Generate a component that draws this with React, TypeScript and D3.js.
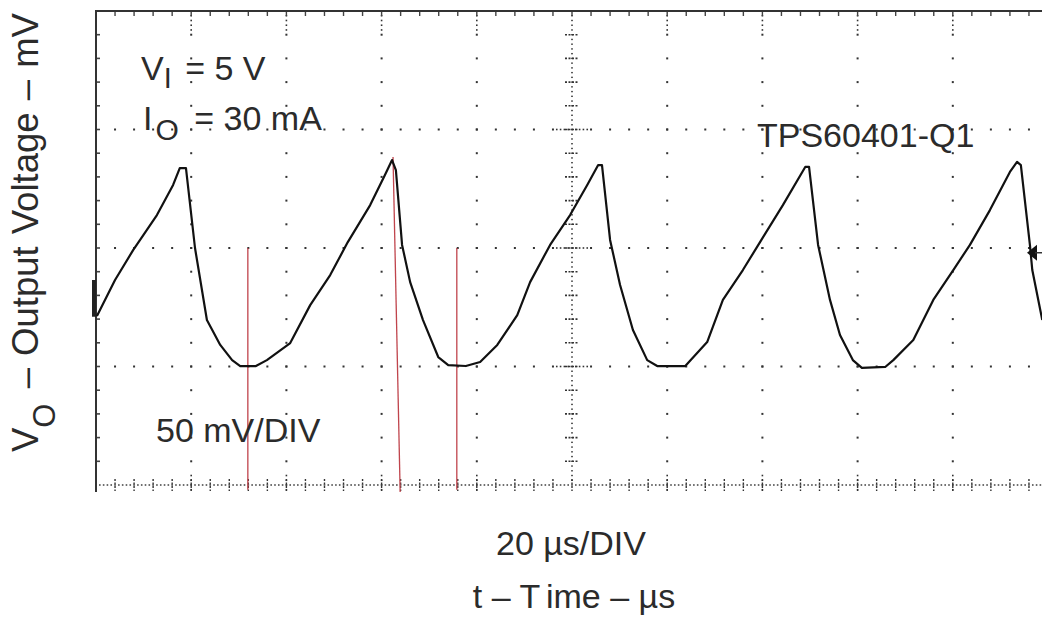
import React from "react";
import * as d3 from "d3";

// Time in µs (20 µs/DIV, 10 divisions), voltage in mV relative to bottom of screen (50 mV/DIV, 4 divisions)
const traceTime = [0.2, 4.0, 7.8, 12.8, 16.2, 17.6, 18.9, 20.8, 23.3, 26.1, 28.6, 30.3, 33.6, 35.9, 40.8, 45.0, 49.2, 52.9, 57.6, 60.7, 62.2, 63.0, 64.3, 66.0, 68.7, 71.9, 74.0, 77.7, 80.7, 84.3, 88.5, 91.2, 95.4, 99.6, 103.2, 105.5, 106.3, 108.0, 110.1, 112.8, 115.8, 117.9, 123.8, 128.4, 131.7, 135.9, 139.5, 144.3, 149.0, 149.8, 151.7, 154.2, 156.3, 159.0, 160.9, 165.8, 167.5, 171.7, 175.9, 180.1, 183.6, 187.8, 192.0, 193.5, 194.3, 196.2, 196.7, 198.8];
const traceVolt = [71.3, 86.5, 99.1, 113.9, 126.6, 133.7, 133.7, 100.0, 69.6, 59.1, 52.7, 50.2, 50.2, 52.7, 59.9, 75.9, 88.6, 102.5, 118.1, 130.8, 137.1, 132.9, 101.3, 85.6, 69.6, 54.0, 50.6, 50.2, 51.9, 59.1, 71.7, 85.6, 101.3, 113.9, 126.6, 135.0, 135.0, 103.4, 84.4, 65.4, 52.7, 50.2, 50.2, 60.3, 78.1, 90.7, 102.5, 118.1, 134.2, 134.2, 101.3, 78.1, 63.3, 52.7, 49.4, 49.8, 52.7, 61.2, 78.1, 90.7, 101.3, 116.0, 132.1, 136.3, 135.0, 101.3, 90.7, 69.6];

// Red cursor lines: from (t1, v1) to (t2, v2)
const cursorT1 = [31.9, 62.4, 75.8];
const cursorV1 = [100, 138.4, 100];
const cursorT2 = [31.9, 63.9, 75.8];
const cursorV2 = [-2, -3, -2];

const timeDomain = [0, 200];
const voltDomain = [0, 200];
const timePerDiv = 20;
const voltPerDiv = 50;
const minorPerDiv = 5;
const groundMarker = [71, 86.5];
const triggerLevel = 98;

const FONT = "'Liberation Sans', Arial, sans-serif";
const TXT = "#2b2b2b";

export default function App() {
  const W = 1042, H = 618;
  const x = d3.scaleLinear().domain(timeDomain).range([96, 1048]);
  const y = d3.scaleLinear().domain(voltDomain).range([485, 11]);

  const tMinor = timePerDiv / minorPerDiv;
  const vMinor = voltPerDiv / minorPerDiv;
  const tMajors = d3.range(timeDomain[0] + timePerDiv, timeDomain[1], timePerDiv);
  const vMajors = d3.range(voltDomain[0] + voltPerDiv, voltDomain[1], voltPerDiv);
  const tMinors = d3.range(timeDomain[0] + tMinor, timeDomain[1] + 0.001, tMinor);
  const vMinors = d3.range(voltDomain[0] + vMinor, voltDomain[1], vMinor);
  const centerT = 100;

  const dots: any[] = [];
  const dotColor = "#333";
  let k = 0;
  const dot = (cx: number, cy: number, w = 2, h = 2) => {
    dots.push(<rect key={k++} x={cx - w / 2} y={cy - h / 2} width={w} height={h} fill={dotColor} />);
  };

  // Vertical major lines (dotted at every minor of volts)
  tMajors.forEach((t) => {
    if (t === centerT) return;
    vMinors.forEach((v) => dot(x(t), y(v)));
    d3.range(2, 8.1, 2).forEach((v) => dot(x(t), y(voltDomain[1] - v), 1.6, 1.6));
    d3.range(-2, 4.1, 2).forEach((v) => dot(x(t), y(v), 1.6, 1.6));
  });
  // Horizontal major lines (dots at every minor of time)
  vMajors.forEach((v) => {
    tMinors.forEach((t) => {
      if (Math.abs(t - centerT) < 0.01) return;
      dot(x(t), y(v));
    });
    d3.range(centerT - 3.2, centerT + 3.3, 0.8).forEach((t) => dot(x(t), y(v), 1.6, 1.6));
  });
  // Center vertical line: dense dots + small ticks at every minor
  d3.range(voltDomain[0] + 2, voltDomain[1], 2).forEach((v) => dot(x(centerT), y(v), 1.6, 1.4));
  vMinors.forEach((v) => dots.push(<line key={k++} x1={x(centerT) - 7} x2={x(centerT) + 6} y1={y(v)} y2={y(v)} stroke={dotColor} strokeWidth={1.6} strokeDasharray="2,1.5" />));

  // Bottom axis line (dense dots) with ticks
  d3.range(timeDomain[0] + 0.8, timeDomain[1], 0.8).forEach((t) => dot(x(t), y(0), 1.6, 1.4));
  tMinors.forEach((t) => dots.push(<line key={k++} x1={x(t)} x2={x(t)} y1={y(0) - 6} y2={y(0) + 6} stroke={dotColor} strokeWidth={1.4} strokeDasharray="2,1.5" />));

  const topTicks = tMinors.map((t, i) => <line key={"tt" + i} x1={x(t)} x2={x(t)} y1={y(voltDomain[1])} y2={y(voltDomain[1]) + 5} stroke="#444" strokeWidth={1.4} />);
  const leftTicks = vMinors.map((v, i) => <line key={"lt" + i} x1={x(0)} x2={x(0) + 4} y1={y(v)} y2={y(v)} stroke="#444" strokeWidth={1.6} />);

  const line = d3.line<number>().x((_, i) => x(traceTime[i])).y((_, i) => y(traceVolt[i]));
  const tracePath = line(traceTime) || "";

  const ax = 1027, ay = y(triggerLevel);

  return (
    <svg width={W} height={H} style={{ position: "absolute", left: 0, top: 0, background: "#fff" }} fontFamily={FONT}>
      <rect x={0} y={0} width={W} height={H} fill="#fff" />
      {dots}
      {topTicks}
      {leftTicks}
      <line x1={x(0)} x2={W} y1={y(voltDomain[1])} y2={y(voltDomain[1])} stroke="#333" strokeWidth={2} />
      <line x1={x(0)} x2={x(0)} y1={y(voltDomain[1]) - 1} y2={y(0) + 7} stroke="#333" strokeWidth={2} />
      <rect x={x(0) - 4} y={y(groundMarker[1])} width={4} height={y(groundMarker[0]) - y(groundMarker[1])} fill="#222" />
      {cursorT1.map((t, i) => (
        <line key={"c" + i} x1={x(t)} y1={y(cursorV1[i])} x2={x(cursorT2[i])} y2={y(cursorV2[i])} stroke="#c0444c" strokeWidth={1.3} />
      ))}
      <path d={tracePath} fill="none" stroke="#111" strokeWidth={2.2} strokeLinejoin="round" />
      <path d={`M${ax},${ay} L${ax + 10},${ay - 8} L${ax + 10},${ay + 8} Z`} fill="#111" />
      <line x1={ax + 8} x2={W} y1={ay} y2={ay} stroke="#333" strokeWidth={1.5} />
      <text x={141} y={80} fontSize={34} fill={TXT}>V<tspan dy={8} fontSize={29}>I</tspan><tspan dy={-8} dx={4}> = 5 V</tspan></text>
      <text x={143} y={130} fontSize={34} fill={TXT}>I<tspan dy={10} fontSize={30} dx={3}>O</tspan><tspan dy={-10} dx={6}> = 30 mA</tspan></text>
      <text x={757} y={147} fontSize={34} fill={TXT}>TPS60401-Q1</text>
      <text x={156} y={442} fontSize={34} fill={TXT}>50 mV/DIV</text>
      <text x={571} y={555} fontSize={34} fill={TXT} textAnchor="middle">20  µs/DIV</text>
      <text x={574} y={608} fontSize={34} fill={TXT} textAnchor="middle">t – T<tspan dx={7}>ime – µs</tspan></text>
      <text transform={`translate(38,452) rotate(-90)`} fontSize={36.5} fill={TXT} wordSpacing={2}>V<tspan dy={17} fontSize={31}>O</tspan><tspan dy={-17} dx={3}> – Output Voltage – mV</tspan></text>
    </svg>
  );
}
